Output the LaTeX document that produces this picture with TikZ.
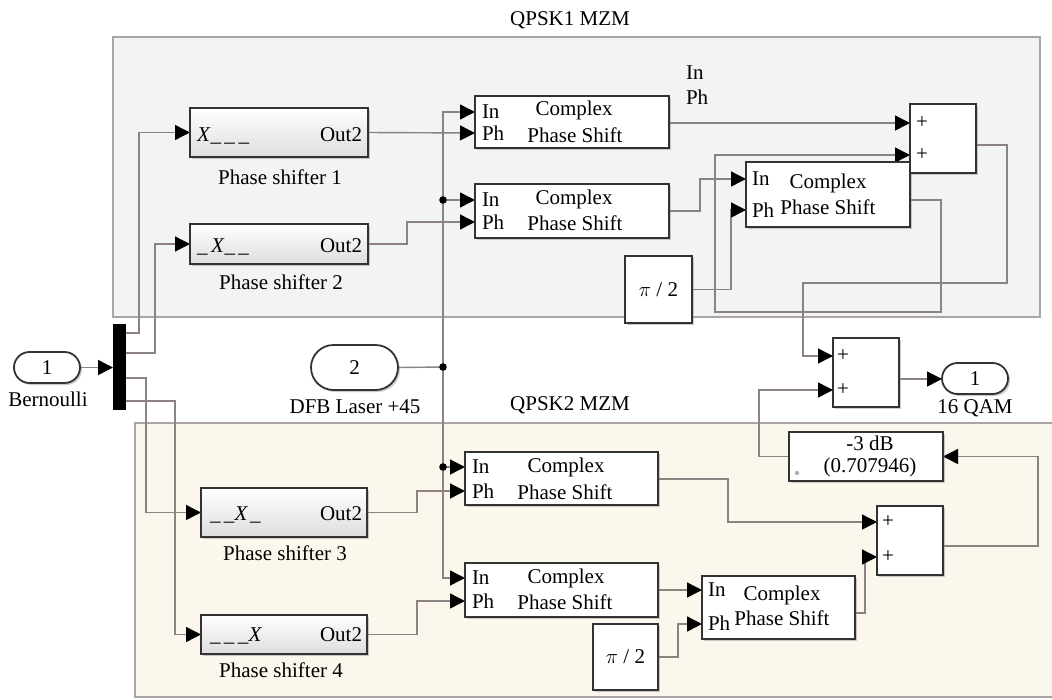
\documentclass[tikz,border=0pt]{standalone}
\usepackage{fontspec}
\setmainfont{Liberation Serif}
\usetikzlibrary{arrows.meta,shadows,calc}
\definecolor{wirec}{HTML}{8C8282}
\definecolor{panelA}{HTML}{F2F3F3}
\definecolor{panelB}{HTML}{FCF7EC}
\definecolor{panelline}{HTML}{ABA4A2}
\definecolor{blkline}{HTML}{333333}
\pgfdeclarelayer{bg}
\pgfsetlayers{bg,main}
\newcommand{\blkbox}[6]{\node[#6, anchor=north west, minimum width=#4pt, minimum height=#5pt] (#1) at (#2,#3) {};}
\newcommand{\usc}{\_\kern3.5pt}
\begin{document}
\begin{tikzpicture}[x=1pt,y=-1pt,
  every node/.style={font=\fontsize{21}{24}\selectfont, inner sep=0pt, outer sep=0pt},
  blk/.style={draw=blkline, line width=1.8pt, fill=white,
    drop shadow={shadow xshift=2pt, shadow yshift=-2pt, opacity=0.4}},
  psblk/.style={blk, top color=white, bottom color=black!13},
  port/.style={blk, rounded corners=#1},
  muxblk/.style={fill=black},
  panel/.style={draw=panelline, line width=1.3pt},
  wire/.style={draw=wirec, line width=1.4pt},
  sig/.style={wire, -{Triangle[length=15pt,width=15pt,color=black]}},
  dot/.style={fill=black}
]
\useasboundingbox (0,0) rectangle (1052,699);

% ---------- blocks ----------
\blkbox{ps1}{190}{108}{178}{49}{psblk}
\blkbox{ps2}{190}{224}{178}{40}{psblk}
\blkbox{ps3}{201}{488}{166}{49}{psblk}
\blkbox{ps4}{201}{615}{166}{39}{psblk}
\blkbox{cps1}{475}{96}{194}{52}{blk}
\blkbox{cps2}{475}{184}{194}{54}{blk}
\blkbox{cps3}{746}{162}{164}{65}{blk}
\blkbox{sum1}{910}{104}{66}{69}{blk}
\blkbox{pi1}{625}{256}{67}{67}{blk}
\blkbox{sum3}{833}{338}{66}{69}{blk}
\blkbox{out1}{942}{363}{66}{31}{port=15.5pt}
\blkbox{gain}{789}{432}{154}{49}{blk}
\blkbox{cps4}{465}{452}{193}{53}{blk}
\blkbox{cps5}{465}{563}{193}{54}{blk}
\blkbox{cps6}{702}{576}{153}{63}{blk}
\blkbox{pi2}{593}{624}{65}{66}{blk}
\blkbox{sum2}{877}{506}{66}{69}{blk}
\blkbox{in1}{14}{352}{66}{31}{port=15.5pt}
\blkbox{in2}{311}{345}{87}{45}{port=22.5pt}
\blkbox{mux}{113}{324}{13}{86}{muxblk}

% ---------- ports ----------
\coordinate (m1) at (126,333);
\coordinate (m2) at (126,353);
\coordinate (m3) at (126,378);
\coordinate (m4) at (126,401);
\coordinate (c1in) at (475,112);  \coordinate (c1ph) at (475,133);  \coordinate (c1out) at (669,123);
\coordinate (c2in) at (475,200);  \coordinate (c2ph) at (475,222);  \coordinate (c2out) at (669,211);
\coordinate (c3in) at (746,179);  \coordinate (c3ph) at (746,210);  \coordinate (c3out) at (910,200);
\coordinate (c4in) at (465,467);  \coordinate (c4ph) at (465,491);  \coordinate (c4out) at (658,479);
\coordinate (c5in) at (465,578);  \coordinate (c5ph) at (465,601);  \coordinate (c5out) at (658,590);
\coordinate (c6in) at (702,590);  \coordinate (c6ph) at (702,624);  \coordinate (c6out) at (855,613);
\coordinate (s1a) at (910,123);   \coordinate (s1b) at (910,155);   \coordinate (s1out) at (976,145);
\coordinate (s3a) at (833,356);   \coordinate (s3b) at (833,390);   \coordinate (s3out) at (899,379);
\coordinate (s2a) at (877,522);   \coordinate (s2b) at (877,557);   \coordinate (s2out) at (943,546);
\coordinate (j0) at (443,367);
\coordinate (j1) at (443,200);
\coordinate (j2) at (443,467);

% ---------- background: panels and wires ----------
\begin{pgfonlayer}{bg}
\fill[white] (0,0) rectangle (1052,699);
\draw[panel, fill=panelA] (113,37) rectangle (1040,317);
\draw[panel, fill=panelB] (135,423) rectangle (1070,697);

\draw[sig] (in1.east) -- (in1.east -| mux.west);
\draw[sig] (m1) -- ++(13,0) |- (ps1.west);
\draw[sig] (m2) -- ++(29,0) |- (ps2.west);
\draw[sig] (m3) -- ++(20,0) |- (ps3.west);
\draw[sig] (m4) -- ++(49,0) |- (ps4.west);

\draw[sig] (ps1.east) -- (c1ph);
\draw[sig] (ps2.east) -- ++(39,0) |- (c2ph);
\draw[sig] (ps3.east) -- ++(50,0) |- (c4ph);
\draw[sig] (ps4.east) -- ++(50,0) |- (c5ph);

\draw[wire] (in2.east) -- (j0);
\draw[sig] (j0) |- (c1in);
\draw[sig] (j0) |- (c5in);
\draw[sig] (j1) -- (c2in);
\draw[sig] (j2) -- (c4in);

\draw[sig] (c1out) -- (s1a);
\draw[sig] (c2out) -- ++(31,0) |- (c3in);
\draw[sig] (pi1.east) -- ++(39,0) |- (c3ph);
\draw[sig] (c3out) -- ++(31,0) -- ++(0,112) -- ++(-226,0) |- (s1b);
\draw[sig] (s1out) -- ++(31,0) -- ++(0,138) -- ++(-204,0) |- (s3a);
\draw[sig] (s3out) -- (s3out -| out1.west);
\draw[sig] (gain.west) -- ++(-30,0) |- (s3b);

\draw[sig] (c4out) -- ++(70,0) |- (s2a);
\draw[sig] (c5out) -- (c6in);
\draw[sig] (pi2.east) -- ++(20,0) |- (c6ph);
\draw[sig] (c6out) -- ++(10,0) |- (s2b);
\draw[sig] (s2out) -- ++(95,0) |- (gain.east);
\end{pgfonlayer}

\fill[dot] (j0) circle (3.8pt);
\fill[dot] (j1) circle (3.8pt);
\fill[dot] (j2) circle (3.8pt);

% ---------- texts ----------
\node (t1) at (570,20) {QPSK1 MZM};
\node (t2) at (570,405) {QPSK2 MZM};
\node[anchor=west] (fin) at (686,73) {In};
\node[anchor=west] (fph) at (686,97) {Ph};

\node[anchor=base west] (ps1a) at (197,141) {\textit{X}\usc\usc\_};
\node[anchor=base east] (ps1b) at (362,141) {Out2};
\node (ps1l) at (280,177) {Phase shifter 1};
\node[anchor=base west] (ps2a) at (197,252) {\usc\textit{X}\usc\_};
\node[anchor=base east] (ps2b) at (362,252) {Out2};
\node (ps2l) at (281,282) {Phase shifter 2};
\node[anchor=base west] (ps3a) at (210,520) {\usc\_\textit{X}\kern2pt\_};
\node[anchor=base east] (ps3b) at (362,520) {Out2};
\node (ps3l) at (285,553) {Phase shifter 3};
\node[anchor=base west] (ps4a) at (210,641) {\usc\usc\_\textit{X}};
\node[anchor=base east] (ps4b) at (362,641) {Out2};
\node (ps4l) at (281,670) {Phase shifter 4};

\node[anchor=west] at (482,112) {In};
\node[anchor=west] at (482,133) {Ph};
\node at (574,110) {Complex};
\node at (575,135) {Phase Shift};

\node[anchor=west] at (482,200) {In};
\node[anchor=west] at (482,222) {Ph};
\node at (574,199) {Complex};
\node at (575,223) {Phase Shift};

\node[anchor=west] at (752,179) {In};
\node[anchor=west] at (752,210) {Ph};
\node at (828,183) {Complex};
\node at (828,207) {Phase Shift};

\node[anchor=west] at (472,467) {In};
\node[anchor=west] at (472,491) {Ph};
\node at (566,467) {Complex};
\node at (565,492) {Phase Shift};

\node[anchor=west] at (472,578) {In};
\node[anchor=west] at (472,601) {Ph};
\node at (566,578) {Complex};
\node at (565,602) {Phase Shift};

\node[anchor=west] at (708,590) {In};
\node[anchor=west] at (708,623) {Ph};
\node at (782,595) {Complex};
\node at (782,618) {Phase Shift};

\node at (922,123) {+};
\node at (922,155) {+};
\node at (843,356) {+};
\node at (843,390) {+};
\node at (888,522) {+};
\node at (888,557) {+};

\node at (pi1.center) {$\pi$ / 2};
\node at (pi2.center) {$\pi$ / 2};

\node at (870,443) {-3 dB};
\node at (870,467) {(0.707946)};
\fill[black!30] (797,473) circle (2.2pt);

\node at (in1.center) {1};
\node at (48,399) {Bernoulli};
\node at (in2.center) {2};
\node at (355,407) {DFB Laser +45};
\node at (out1.center) {1};
\node at (975,408) {16 QAM};
\end{tikzpicture}
\end{document}
